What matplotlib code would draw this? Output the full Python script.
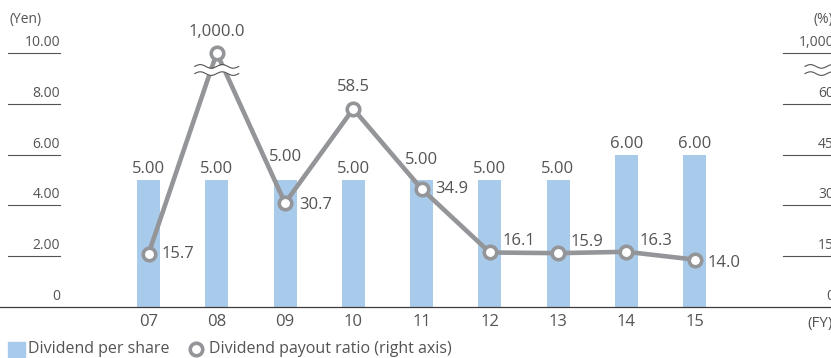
import matplotlib as mpl
mpl.use('Agg')
import numpy as np
import matplotlib.pyplot as plt
import matplotlib.transforms as mtransforms

plt.rcParams['font.family'] = ['Open Sans', 'DejaVu Sans']

# fiscal years, dividend per share (yen) and payout ratio (%)
years = ['07', '08', '09', '10', '11', '12', '13', '14', '15']
dps = [5.00, 5.00, 5.00, 5.00, 5.00, 5.00, 5.00, 6.00, 6.00]
payout = [15.7, 1000.0, 30.7, 58.5, 34.9, 16.1, 15.9, 16.3, 14.0]

left_ticks = [0, 2, 4, 6, 8, 10]
left_labels = ['0', '2.00', '4.00', '6.00', '8.00', '10.00']
right_ticks = [0, 15, 30, 45, 60, 1000]
right_labels = ['0', '15', '30', '45', '60', '1,000']

BAR = '#a9cbeb'
LINE = '#939598'
TXT = '#555353'
PX = 0.72  # points per pixel at dpi 100


def ratio_to_left(v):
    # 0-60 % shares the 0-8 yen span, anything above the break sits at the top
    return 10.0 if v > 60 else v / 7.5


W, H = 831, 358
fig = plt.figure(figsize=(W / 100, H / 100), dpi=100)
ax = fig.add_axes([0, 0, 1, 1])
ax.set_axis_off()

# map data space onto pixels: category i at x=148.5+68.25*i, y=0 at 307px, 25.4px per yen
x0, dx = 148.5, 68.25
y0, dy = H - 307, 25.4
ax.set_xlim(-x0 / dx, (W - x0) / dx)
ax.set_ylim(-y0 / dy, (H - y0) / dy)

x = np.arange(len(years))
blend = mtransforms.blended_transform_factory(ax.transAxes, ax.transData)

# bars
ax.bar(x, dps, width=23 / dx, color=BAR, zorder=2)

# payout line
py = [ratio_to_left(v) for v in payout]
ax.plot(x, py, color=LINE, lw=3.3, zorder=3, solid_capstyle='round')
ax.plot(x, py, 'o', ms=9, mfc='white', mec=LINE, mew=2.6, zorder=5, lw=0)

# baseline
ax.axhline(0, color='#3e3a39', lw=0.9, zorder=4)

# left axis ticks
for t, lab in zip(left_ticks, left_labels):
    if t > 0:
        ax.plot([8 / W, 60 / W], [t, t], color=TXT, lw=0.8, transform=blend)
    ax.annotate(lab, (60 / W, t), xycoords=blend, xytext=(0, 3 * PX),
                textcoords='offset points', ha='right', va='bottom',
                fontsize=10, color=TXT)

# right axis ticks (run off the right edge)
for t, lab in zip(right_ticks, right_labels):
    yy = ratio_to_left(t) if t <= 60 else 10.0
    if t > 0:
        ax.plot([783 / W, 1.0], [yy, yy], color=TXT, lw=0.8, transform=blend)
    ax.annotate(lab, (834 / W, yy), xycoords=blend, xytext=(0, 3 * PX),
                textcoords='offset points', ha='right', va='bottom',
                fontsize=10, color=TXT, annotation_clip=False)

ax.text(9 / W, 1 - 19 / H, '(Yen)', transform=ax.transAxes, fontsize=10,
        color=TXT, ha='left', va='center')
ax.text(833 / W, 1 - 19 / H, '(%)', transform=ax.transAxes, fontsize=10,
        color=TXT, ha='right', va='center')
ax.text(833 / W, 1 - 323 / H, '(FY)', transform=ax.transAxes, fontsize=11,
        color=TXT, ha='right', va='center')


# axis break marks
def wave_break(xc, yc, half_w):
    xs = np.linspace(xc - half_w, xc + half_w, 60)
    ph = (xs - xs[0]) / (22 / dx) * 2 * np.pi
    amp = 1.8 / dy
    gap = 3.6 / dy
    lo = yc - gap + amp * np.sin(ph)
    hi = yc + gap + amp * np.sin(ph)
    ax.fill_between(xs, lo, hi, color='white', zorder=6, lw=0)
    ax.plot(xs, lo, color=TXT, lw=0.8, zorder=7)
    ax.plot(xs, hi, color=TXT, lw=0.8, zorder=7)


wave_break(1, (H - 70 - y0) / dy, 22 / dx)
wave_break((818 - x0) / dx, (H - 70 - y0) / dy, 13 / dx)

# x tick labels
for i, yr in enumerate(years):
    ax.annotate(yr, (i, 0), xytext=(0, -15 * PX), textcoords='offset points',
                ha='center', va='center', fontsize=12, color=TXT)

# bar value labels (some lifted clear of the line)
bar_lift = [0, 0, 12, 0, 9, 0, 0, 0, 0]
for i, v in enumerate(dps):
    ax.annotate(f'{v:.2f}', (i, v), xytext=(0, (11 + bar_lift[i]) * PX),
                textcoords='offset points', ha='center', va='center',
                fontsize=12, color=TXT, zorder=8)

# payout value labels
offs = [(13, 0, 'left'), (0, 21, 'center'), (14, -2, 'left'), (0, 22, 'center'),
        (14, 0, 'left'), (13, 11, 'left'), (13, 11, 'left'), (13, 11, 'left'),
        (13, -3, 'left')]
for i, v in enumerate(payout):
    ox, oy, ha = offs[i]
    ax.annotate(f'{v:,.1f}', (i, py[i]), xytext=(ox * PX, oy * PX),
                textcoords='offset points', ha=ha, va='center',
                fontsize=12, color=TXT, zorder=8)

# legend
ax.add_patch(plt.Rectangle((8 / W, 1 - 357 / H), 17 / W, 15 / H, color=BAR,
                           transform=ax.transAxes, clip_on=False))
ax.text(28 / W, 1 - 349 / H, 'Dividend per share', transform=ax.transAxes,
        fontsize=11.5, color=TXT, ha='left', va='center')
ax.plot([196 / W], [1 - 349 / H], 'o', ms=9, mfc='white', mec=LINE, mew=2.6,
        transform=ax.transAxes, clip_on=False)
ax.text(209 / W, 1 - 349 / H, 'Dividend payout ratio (right axis)',
        transform=ax.transAxes, fontsize=11.5, color=TXT, ha='left', va='center')

fig.savefig('out.png', dpi=100)
